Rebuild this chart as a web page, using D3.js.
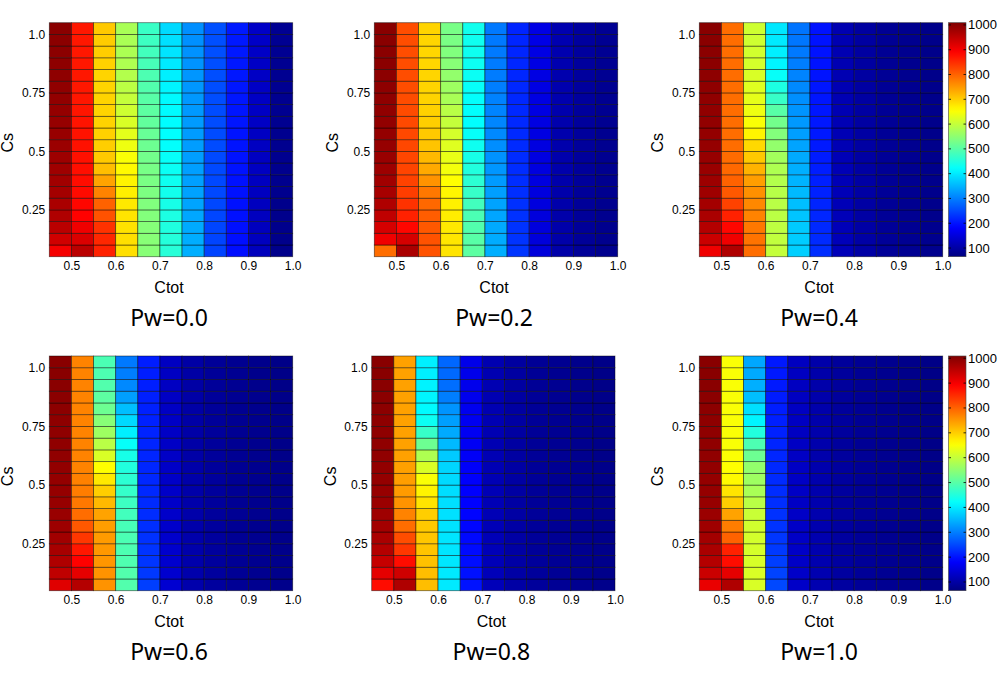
<!DOCTYPE html>
<html><head><meta charset="utf-8">
<script src="https://cdn.jsdelivr.net/npm/d3@7"></script>
<style>
html,body{margin:0;padding:0;background:#fff;}
svg{display:block;}
</style>
</head><body>
<svg id="chart" width="1001" height="679"></svg>
<script>
// ---- data ----
const ctotEdges = [0.45,0.50,0.55,0.60,0.65,0.70,0.75,0.80,0.85,0.90,0.95]; // cell lower edges (width 0.05)
const csEdges = [0.05,0.10,0.15,0.20,0.25,0.30,0.35,0.40,0.45,0.50,0.55,0.60,0.65,0.70,0.75,0.80,0.85,0.90,0.95,1.00]; // cell lower edges (height 0.05)
const xTickValues = [0.5,0.6,0.7,0.8,0.9,1.0];
const yTickValues = [0.25,0.5,0.75,1.0];
const cbTickValues = [100,200,300,400,500,600,700,800,900,1000];
const colorRange = [65,1009];
const panelTitles = ["Pw=0.0","Pw=0.2","Pw=0.4","Pw=0.6","Pw=0.8","Pw=1.0"];

// each panel: 11 columns (Ctot), each 20 values from Cs=0.05 (bottom) to Cs=1.0 (top)
const pw00 = [
 [900,935,955,965,970,975,978,980,982,984,986,988,990,992,994,995,996,997,998,999],
 [955,925,905,890,885,882,880,878,876,875,874,873,872,871,870,870,870,870,870,870],
 [860,855,845,815,800,770,740,715,705,700,698,696,695,695,695,695,697,700,702,705],
 [685,685,682,680,675,670,665,660,650,640,630,620,610,600,592,585,580,578,576,575],
 [545,545,543,540,538,535,532,530,525,520,515,510,505,500,495,490,485,480,475,472],
 [455,452,448,445,440,436,432,428,425,422,420,418,416,414,410,405,400,395,390,385],
 [345,343,340,338,335,333,331,330,329,328,327,326,325,324,323,322,320,318,316,315],
 [245,246,247,248,249,250,250,251,251,252,252,253,253,254,254,255,255,256,256,257],
 [195,196,197,198,198,199,199,200,200,201,201,202,202,203,203,204,204,205,205,206],
 [122,123,123,124,124,125,125,126,126,127,127,128,128,128,129,129,130,130,131,131],
 [76,76,77,77,77,78,78,78,79,79,79,80,80,80,81,81,81,82,82,82]
];
const pw02 = [
 [790,905,930,950,965,972,978,982,985,988,990,992,994,995,996,997,998,999,1000,1000],
 [970,930,885,860,845,835,830,828,826,825,824,823,822,821,820,820,820,820,820,820],
 [815,815,810,805,795,780,755,735,720,710,705,700,698,696,695,694,693,693,694,695],
 [680,678,675,672,668,663,655,645,635,625,615,600,590,575,565,555,545,538,532,530],
 [505,500,495,488,480,470,460,450,440,432,425,420,420,422,425,428,430,432,433,435],
 [345,342,340,337,334,330,326,322,318,314,310,307,305,303,300,298,297,296,295,295],
 [232,230,229,228,227,226,225,224,223,222,221,220,220,219,219,218,218,217,217,216],
 [150,150,151,151,152,152,153,153,154,154,155,155,156,156,157,157,158,158,159,159],
 [103,103,104,104,105,105,105,106,106,106,107,107,107,108,108,108,109,109,110,110],
 [88,88,88,89,89,89,90,90,90,90,91,91,91,92,92,92,92,93,93,93],
 [78,78,78,79,79,79,79,80,80,80,80,81,81,81,81,82,82,82,82,83]
];
const pw04 = [
 [905,940,960,970,975,980,982,985,987,989,990,992,993,994,995,996,997,998,999,1000],
 [965,905,885,860,830,810,800,795,792,790,790,790,790,790,790,790,790,790,790,790],
 [790,785,780,770,765,758,745,725,705,690,665,650,640,632,625,620,615,612,610,610],
 [600,598,595,592,590,588,585,580,570,555,540,525,500,470,445,425,410,405,400,398],
 [375,372,370,365,360,355,350,345,340,335,330,325,320,315,310,305,300,295,292,290],
 [225,222,220,218,216,214,212,210,208,206,205,204,203,202,202,201,200,200,200,200],
 [118,118,117,117,116,116,115,115,115,114,114,114,113,113,113,112,112,112,111,111],
 [100,100,100,99,99,99,99,98,98,98,98,97,97,97,97,96,96,96,96,95],
 [88,88,88,87,87,87,87,86,86,86,86,86,85,85,85,85,85,84,84,84],
 [82,82,82,82,81,81,81,81,81,80,80,80,80,80,80,79,79,79,79,79],
 [78,78,78,77,77,77,77,77,77,76,76,76,76,76,76,75,75,75,75,75]
];
const pw06 = [
 [920,950,965,972,978,982,985,987,989,990,992,993,994,995,996,997,998,999,1000,1000],
 [960,915,890,870,840,810,790,780,775,772,770,770,770,770,770,770,770,770,770,770],
 [755,755,752,750,748,745,740,720,700,675,655,620,590,565,545,520,505,495,490,488],
 [495,495,492,490,488,485,480,475,468,460,450,440,425,405,385,360,330,310,300,295],
 [240,235,232,230,228,226,224,222,220,219,218,217,216,215,214,213,212,211,210,210],
 [140,139,138,137,136,135,134,133,132,131,131,130,130,129,129,128,128,127,127,126],
 [106,106,105,105,105,104,104,104,103,103,103,102,102,102,101,101,101,100,100,100],
 [93,93,92,92,92,92,91,91,91,91,90,90,90,90,89,89,89,89,88,88],
 [85,85,85,85,84,84,84,84,84,83,83,83,83,83,82,82,82,82,82,81],
 [80,80,80,80,80,79,79,79,79,79,79,78,78,78,78,78,78,77,77,77],
 [76,76,76,76,76,75,75,75,75,75,75,74,74,74,74,74,74,73,73,73]
];
const pw08 = [
 [880,915,945,960,970,976,980,984,987,990,992,993,994,995,996,997,998,999,1000,1000],
 [965,935,880,840,820,790,770,755,748,745,743,742,742,742,742,742,742,742,742,742],
 [715,715,712,710,708,705,700,680,665,650,620,580,520,470,430,415,410,408,405,405],
 [400,400,398,396,395,393,391,390,388,385,380,370,355,340,330,320,300,285,280,278],
 [200,198,195,192,190,188,186,184,182,180,178,176,174,172,170,168,166,165,164,163],
 [118,118,117,117,116,116,115,115,115,114,114,114,113,113,113,112,112,112,111,111],
 [100,100,100,99,99,99,99,98,98,98,98,97,97,97,97,96,96,96,96,95],
 [90,90,90,89,89,89,89,88,88,88,88,88,87,87,87,87,87,86,86,86],
 [85,85,85,84,84,84,84,84,83,83,83,83,83,82,82,82,82,82,81,81],
 [80,80,80,80,79,79,79,79,79,79,78,78,78,78,78,78,77,77,77,77],
 [76,76,76,76,76,75,75,75,75,75,75,74,74,74,74,74,74,73,73,73]
];
const pw10 = [
 [910,940,960,970,976,980,984,987,989,990,992,993,994,995,996,997,998,999,1000,1000],
 [965,915,880,860,800,775,740,700,680,660,655,652,650,650,650,650,650,650,650,650],
 [620,620,618,616,614,612,605,590,575,565,555,520,490,450,410,390,360,345,340,338],
 [250,245,240,236,233,230,228,226,224,222,220,218,216,214,212,210,208,206,205,205],
 [132,132,131,131,130,130,130,129,129,129,128,128,128,127,127,127,126,126,126,125],
 [110,110,109,109,109,108,108,108,107,107,107,106,106,106,105,105,105,104,104,104],
 [95,95,95,94,94,94,94,93,93,93,93,92,92,92,92,91,91,91,91,90],
 [88,88,88,87,87,87,87,86,86,86,86,86,85,85,85,85,85,84,84,84],
 [82,82,82,82,81,81,81,81,81,80,80,80,80,80,80,79,79,79,79,79],
 [78,78,78,77,77,77,77,77,77,76,76,76,76,76,76,75,75,75,75,75],
 [75,75,75,75,74,74,74,74,74,74,73,73,73,73,73,73,72,72,72,72]
];
const panelData = [pw00,pw02,pw04,pw06,pw08,pw10];

// ---- layout ----
const panelBoxes = [
 {x0:49.3, x1:292.7, y0:22.7, y1:256.7},
 {x0:374.3,x1:617.7, y0:22.7, y1:256.7},
 {x0:699.3,x1:942.7, y0:22.7, y1:256.7},
 {x0:49.3, x1:292.7, y0:356, y1:590.7},
 {x0:371.7,x1:615,   y0:356, y1:590.7},
 {x0:699.3,x1:942.7, y0:356, y1:590.7}
];
const cbPanels = [2,5];

function jet(t){
  t = Math.max(0, Math.min(1, t));
  const c = v => Math.round(255*Math.max(0, Math.min(1, v)));
  return `rgb(${c(1.5-Math.abs(4*t-3))},${c(1.5-Math.abs(4*t-2))},${c(1.5-Math.abs(4*t-1))})`;
}
const color = d3.scaleSequential(jet).domain(colorRange);

const svg = d3.select("#chart");
const tickFont = "Liberation Sans, Arial, sans-serif";

panelData.forEach((cols, p) => {
  const b = panelBoxes[p];
  const x = d3.scaleLinear().domain([0.45,1.0]).range([b.x0,b.x1]);
  const y = d3.scaleLinear().domain([0.05,1.05]).range([b.y1,b.y0]);
  const g = svg.append("g");
  const cells = [];
  cols.forEach((col, i) => col.forEach((v, j) => cells.push({cx:ctotEdges[i], cy:csEdges[j], v})));
  g.selectAll("rect.cell").data(cells).join("rect")
    .attr("class","cell")
    .attr("x", d => x(d.cx))
    .attr("y", d => y(d.cy + 0.05))
    .attr("width", d => x(d.cx + 0.05) - x(d.cx))
    .attr("height", d => y(d.cy) - y(d.cy + 0.05))
    .attr("fill", d => color(d.v))
    .attr("stroke", "#000")
    .attr("stroke-opacity", 0.55)
    .attr("stroke-width", 0.8);

  // x axis
  const xa = g.append("g").attr("transform", `translate(0,${b.y1})`)
    .call(d3.axisBottom(x).tickValues(xTickValues).tickFormat(d3.format(".1f")).tickSize(0).tickPadding(5));
  xa.select(".domain").remove();
  xa.selectAll("text").attr("font-family", tickFont).attr("font-size", 12).attr("fill","#000");
  // y axis
  const ya = g.append("g").attr("transform", `translate(${b.x0},0)`)
    .call(d3.axisLeft(y).tickValues(yTickValues).tickFormat(d => d === 1 ? "1.0" : String(d)).tickSize(0).tickPadding(4));
  ya.select(".domain").remove();
  ya.selectAll("text").attr("font-family", tickFont).attr("font-size", 12).attr("fill","#000");

  const cxMid = (b.x0 + b.x1)/2;
  g.append("text").attr("x", cxMid - 2).attr("y", b.y1 + 36)
    .attr("text-anchor","middle").attr("font-family", tickFont).attr("font-size", 16).text("Ctot");
  g.append("text").attr("transform", `translate(${b.x0 - 36},${(b.y0+b.y1)/2 + 3}) rotate(-90)`)
    .attr("text-anchor","middle").attr("font-family", tickFont).attr("font-size", 16).text("Cs");
  g.append("text").attr("x", cxMid - 2).attr("y", b.y1 + 69)
    .attr("text-anchor","middle").attr("font-family", "Noto Sans, sans-serif").attr("font-size", 23).text(panelTitles[p]);
});

// colorbars
const defs = svg.append("defs");
const grad = defs.append("linearGradient").attr("id","jetgrad").attr("x1","0").attr("y1","1").attr("x2","0").attr("y2","0");
grad.selectAll("stop").data(d3.range(0, 1.0001, 0.02)).join("stop")
  .attr("offset", d => d).attr("stop-color", d => jet(d));

cbPanels.forEach(p => {
  const b = panelBoxes[p];
  const cx0 = 948.5, cx1 = 966;
  const cy = d3.scaleLinear().domain(colorRange).range([b.y1, b.y0]);
  const g = svg.append("g");
  g.append("rect").attr("x", cx0).attr("y", b.y0).attr("width", cx1-cx0).attr("height", b.y1-b.y0)
    .attr("fill","url(#jetgrad)").attr("stroke","#444").attr("stroke-width",0.6);
  g.selectAll("line.tl").data(cbTickValues).join("line").attr("class","tl")
    .attr("x1", cx0).attr("x2", cx0+2.5).attr("y1", d=>cy(d)).attr("y2", d=>cy(d)).attr("stroke","#000").attr("stroke-width",0.8);
  g.selectAll("line.tr").data(cbTickValues).join("line").attr("class","tr")
    .attr("x1", cx1-2.5).attr("x2", cx1).attr("y1", d=>cy(d)).attr("y2", d=>cy(d)).attr("stroke","#000").attr("stroke-width",0.8);
  g.selectAll("text").data(cbTickValues).join("text")
    .attr("x", cx1 + 2).attr("y", d => cy(d) + 4.5)
    .attr("font-family", tickFont).attr("font-size", 13).text(d => d);
});
</script>
</body></html>
